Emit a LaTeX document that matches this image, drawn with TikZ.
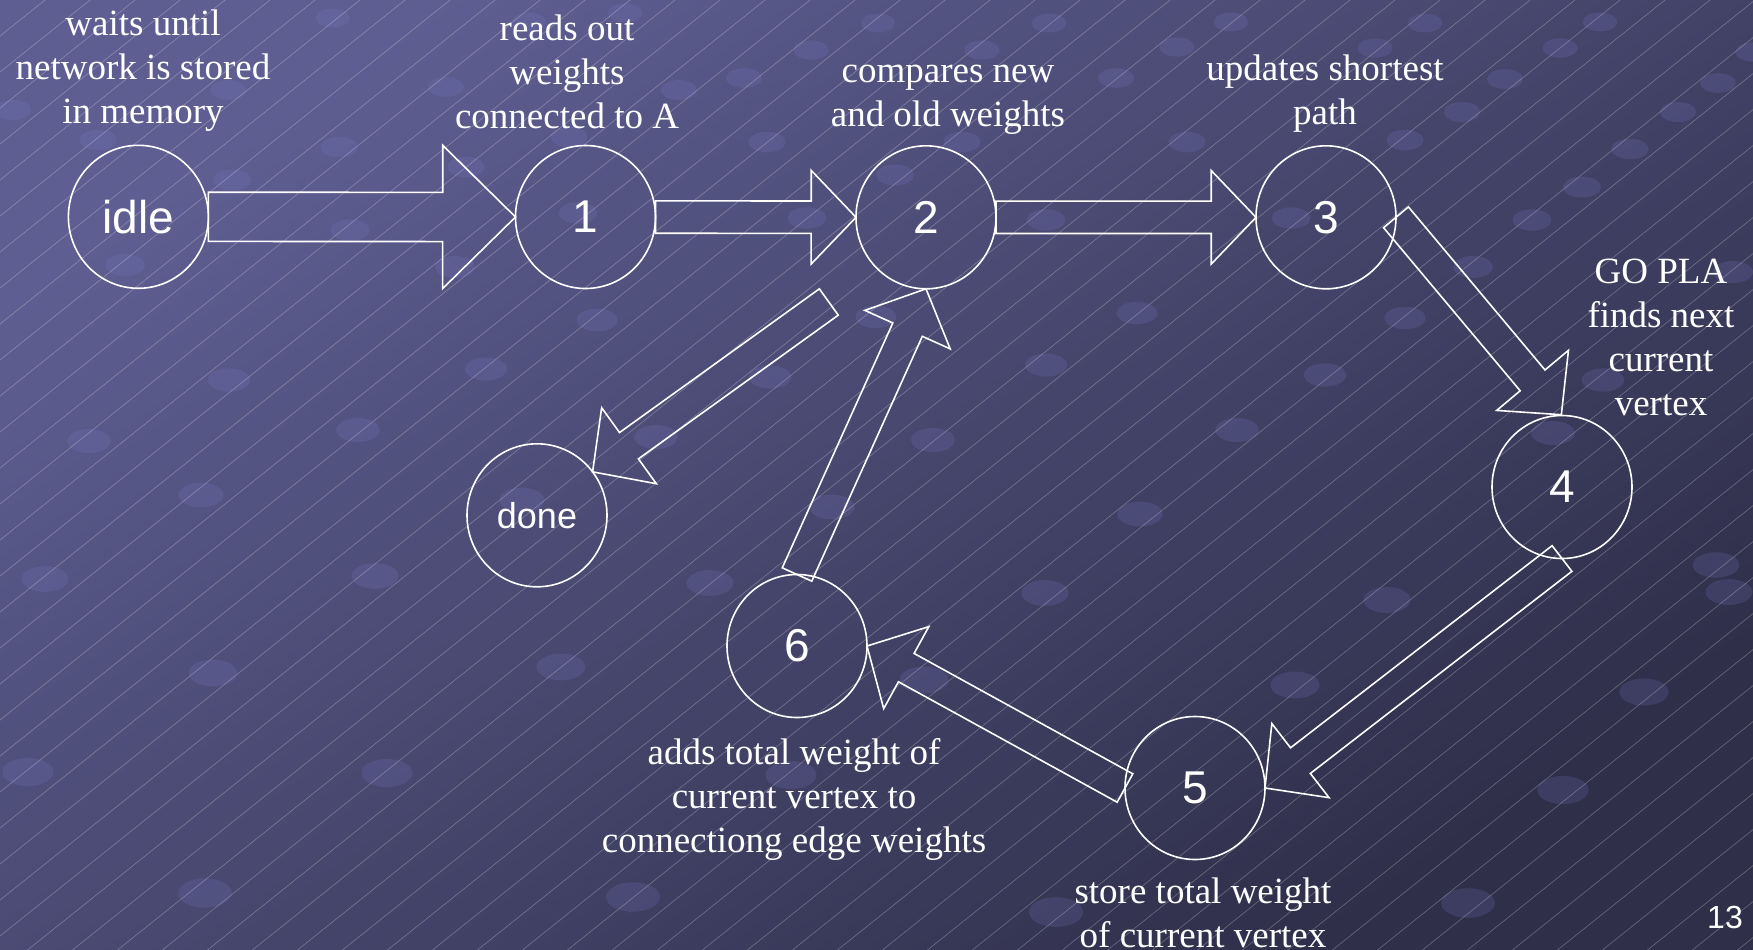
\documentclass[tikz,border=0pt]{standalone}
\usepackage{fontspec}
\setmainfont{Liberation Serif}
\newfontfamily\arialf{Liberation Sans}
\usetikzlibrary{shapes.geometric,calc}

\definecolor{bgA}{HTML}{5E5E92}
\definecolor{bgB}{HTML}{2F2F4A}
\definecolor{dotc}{HTML}{8080D0}

\tikzset{
  state/.style={ellipse, draw=white, line width=0.8pt, minimum width=70pt, minimum height=71.5pt,
    inner sep=0pt, outer sep=0pt, text=white, font=\arialf\fontsize{23}{27}\selectfont},
  smallstate/.style={state, font=\arialf\fontsize{18}{22}\selectfont},
  lbl/.style={text=white, align=center, inner sep=0pt, font=\fontsize{18.5}{22}\selectfont},
  pagenum/.style={text=white, inner sep=0pt, font=\arialf\fontsize{16}{19}\selectfont},
  barrowline/.style={draw=white, line width=0.8pt, line join=miter},
  bgdot/.style={fill=dotc, fill opacity=0.18},
  hatch/.style={draw=white, draw opacity=0.25, line width=0.35pt}
}

% #1 start, #2 end, #3 shaft half width (pt), #4 head half width (pt), #5 head length (pt)
\newcommand\blockarrow[5]{%
  \path #1 coordinate (bas) #2 coordinate (bae);%
  \pgfmathanglebetweenpoints{\pgfpointanchor{bas}{center}}{\pgfpointanchor{bae}{center}}%
  \let\baang\pgfmathresult
  \pgfpointdiff{\pgfpointanchor{bas}{center}}{\pgfpointanchor{bae}{center}}%
  \pgfgetlastxy{\badx}{\bady}%
  \pgfmathveclen{\badx}{\bady}%
  \let\balen\pgfmathresult
  \pgfmathsetmacro\babase{\balen-#5}%
  \draw[barrowline,shift={(bas)},rotate=\baang]
    (0pt,#3pt) -- (\babase pt,#3pt) -- (\babase pt,#4pt) -- (\balen pt,0pt)
    -- (\babase pt,-#4pt) -- (\babase pt,-#3pt) -- (0pt,-#3pt) -- cycle;%
}

\begin{document}
\begin{tikzpicture}[x=0.5pt,y=-0.5pt]
\useasboundingbox (0,0) rectangle (1753,949);
\begin{scope}
  \clip (0,0) rectangle (1753,949);
  \shade[top color=bgA, bottom color=bgB, shading angle=35] (0,0) rectangle (1753,949);
  \foreach \dx/\dy in {333/18,529/22,625/13,878/23,1049/23,1231/22,1425/23,1600/22,
    228/90,446/87,679/90,811/50,982/50,1177/47,1375/48,1560/48,1753/52,
    13/110,98/140,339/147,569/137,744/78,1116/78,1505/79,1718/83,
    466/167,767/142,962/142,1187/142,1405/140,1462/112,1678/112,1630/149,
    232/180,578/213,807/218,895/175,1046/220,1291/218,1582/187,1532/220,
    350/230,125/265,455/267,1473/267,1733/272,
    597/320,876/317,1137/313,1405/318,1046/365,1325/375,770/377,1603/380,486/369,
    229/380,358/430,89/441,201/495,45/579,375/576,1140/514,1716/565,
    1237/430,1553/433,933/440,656/437,522/500,832/507,710/583,1045/593,1387/600,1729/592,
    28/772,213/673,387/773,205/893,1295/685,924/680,1644/692,1563/790,791/775,
    633/897,1056/912,1468/903,561/667}{
    \pgfmathsetmacro\rdot{17+0.011*\dy}
    \fill[bgdot] (\dx,\dy) ellipse [x radius=\rdot, y radius=0.55*\rdot];
  }
  \foreach \c in {0,36,...,2450}{
    \draw[hatch] (0,\c) -- (3100,{\c-2480});
  }
\end{scope}

% states
\node[state] (idle) at (138.4,216.8) {idle};
\node[state] (n1) at (585.5,217) {1};
\node[state] (n2) at (926,217.3) {2};
\node[state] (n3) at (1326,217.3) {3};
\node[state] (n4) at (1562,487) {4};
\node[state] (n5) at (1195,788) {5};
\node[state] (n6) at (797,646) {6};
\node[smallstate] (done) at (537,515.3) {done};
\coordinate (c2d) at (828.8,302);

% block arrows
\blockarrow{(idle.east)}{(n1.west)}{12.3}{35.8}{36.4}
\blockarrow{(n1.east)}{(n2.west)}{8.1}{23.4}{22.4}
\blockarrow{(n2.east)}{(n3.west)}{8.1}{23.4}{22.4}
\blockarrow{(n3.east)}{(n4.north)}{8.1}{23.4}{22.4}
\blockarrow{(n4.south)}{(n5.east)}{8.1}{23.4}{22.4}
\blockarrow{(n5.west)}{(n6.east)}{8.1}{23.4}{22.4}
\blockarrow{(n6.north)}{(n2.south)}{8.1}{23.4}{22.4}
\blockarrow{(c2d)}{(done.38)}{8.1}{23.4}{22.4}

% labels
\node[lbl] (lwait) at (143,70.5) {waits until\\network is stored\\in memory};
\node[lbl] (lread) at (567,72) {reads out\\weights\\connected to A};
\node[lbl] (lcomp) at (948,100) {compares new\\and old weights};
\node[lbl] (lupd) at (1325,93.5) {updates shortest\\path};
\node[lbl] (lgo) at (1661,337) {GO PLA\\finds next\\current\\vertex};
\node[lbl] (ladd) at (794,799.5) {adds total weight of\\current vertex to\\connectiong edge weights};
\node[lbl] (lstore) at (1203,913) {store total weight\\of current vertex};
\node[pagenum] (pg) at (1725,917) {13};
\end{tikzpicture}
\end{document}
